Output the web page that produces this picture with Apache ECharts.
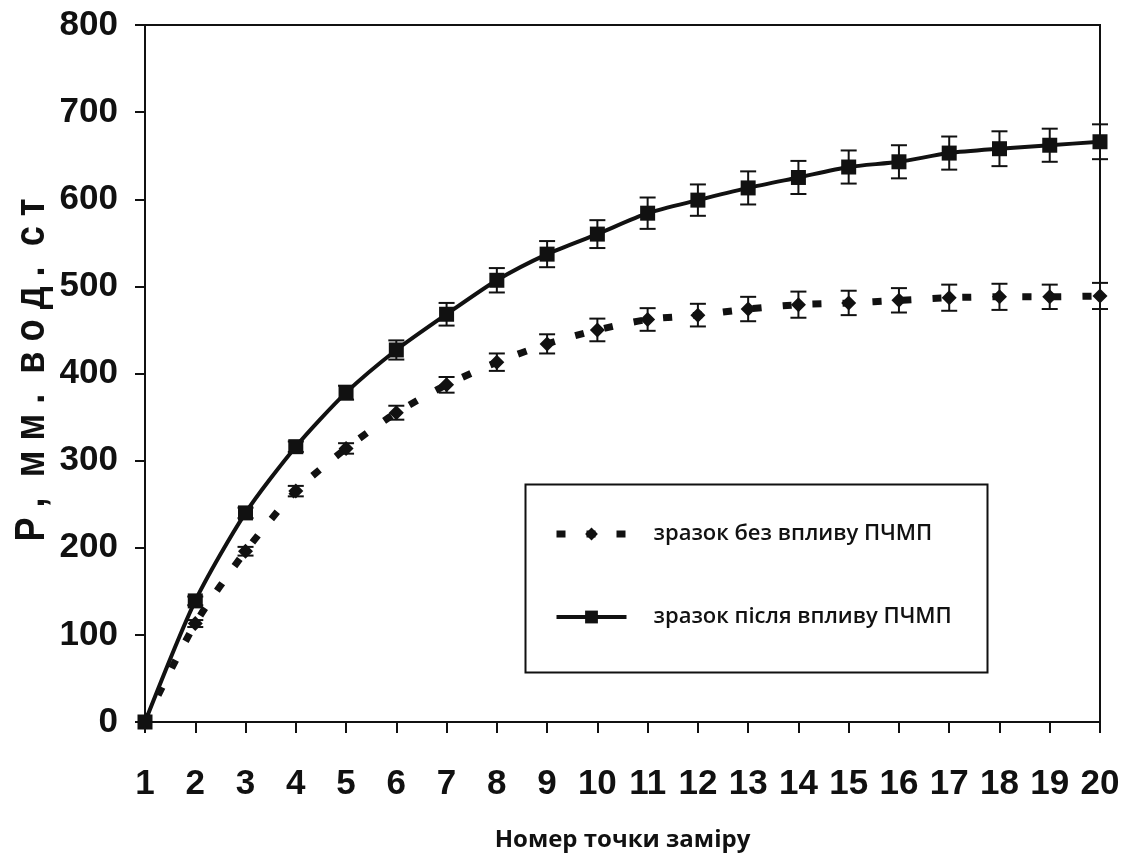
<!DOCTYPE html>
<html>
<head>
<meta charset="utf-8">
<script src="https://cdn.jsdelivr.net/npm/echarts@6/dist/echarts.min.js"></script>
<style>html,body{margin:0;padding:0;background:#fff}#c{width:1130px;height:858px}</style>
</head>
<body>
<div id="c"></div>
<script>
// ---- data ----
const pointNumbers = [1,2,3,4,5,6,7,8,9,10,11,12,13,14,15,16,17,18,19,20];
const seriesNames = ['зразок без впливу ПЧМП', 'зразок після впливу ПЧМП'];
const valuesWithout = [0,113,196,265,314,355,387,413,434,450,462,467,474,479,481,484,487,488,488,489];
const errorsWithout = [0,4,5,6,6,8,9,10,11,13,13,13,14,15,14,14,15,15,14,15];
const valuesAfter = [0,139,240,316,378,427,468,507,537,560,584,599,613,625,637,643,653,658,662,666];
const errorsAfter = [0,5,6,6,8,11,13,14,15,16,18,18,19,19,19,19,19,20,19,20];
const yTicks = {min: 0, max: 800, step: 100};
const xTitle = 'Номер точки заміру';
const yTitle = 'Р ,  м м .  в о д .  с т';

const INK = '#111';
const SANS = '"Liberation Sans", Arial, sans-serif';
const CAL = '"Open Sans", "Noto Sans", sans-serif';

function pairs(vals){ return pointNumbers.map((x,i)=>[x, vals[i]]); }
function errTriples(vals, errs){ return pointNumbers.map((x,i)=>[x, vals[i], errs[i]]); }

function errorBar(params, api){
  const x = api.value(0), y = api.value(1), e = api.value(2);
  if (!e) return null;
  const top = api.coord([x, y + e]);
  const bot = api.coord([x, y - e]);
  const hw = 8;
  const st = {stroke: INK, lineWidth: 2};
  return {type: 'group', children: [
    {type: 'line', shape: {x1: top[0], y1: top[1], x2: bot[0], y2: bot[1]}, style: st},
    {type: 'line', shape: {x1: top[0]-hw, y1: top[1], x2: top[0]+hw, y2: top[1]}, style: st},
    {type: 'line', shape: {x1: bot[0]-hw, y1: bot[1], x2: bot[0]+hw, y2: bot[1]}, style: st}
  ]};
}

const chart = echarts.init(document.getElementById('c'), null, {renderer: 'canvas'});
chart.setOption({
  backgroundColor: '#fff',
  animation: false,
  grid: {left: 145, right: 30, top: 25, bottom: 136, show: true, borderColor: INK, borderWidth: 2, backgroundColor: 'transparent'},
  xAxis: {
    type: 'value', min: 1, max: 20, interval: 1,
    axisLine: {show: true, onZero: false, lineStyle: {color: INK, width: 2}},
    axisTick: {show: true, inside: false, length: 11, lineStyle: {color: INK, width: 2}},
    splitLine: {show: false},
    axisLabel: {margin: 45, color: INK, fontFamily: SANS, fontWeight: 'bold', fontSize: 35},
    name: xTitle, nameLocation: 'middle', nameGap: 106,
    nameTextStyle: {fontFamily: CAL, fontWeight: 'bold', fontSize: 24, color: INK}
  },
  yAxis: {
    type: 'value', min: yTicks.min, max: yTicks.max, interval: yTicks.step,
    axisLine: {show: true, onZero: false, lineStyle: {color: INK, width: 2}},
    axisTick: {show: true, inside: false, length: 10, lineStyle: {color: INK, width: 2}},
    splitLine: {show: false},
    axisLabel: {margin: 27, color: INK, fontFamily: SANS, fontWeight: 'bold', fontSize: 35}
  },
  legend: {
    orient: 'vertical', left: 548, top: 517, itemGap: 59,
    itemWidth: 70, itemHeight: 16,
    textStyle: {fontFamily: CAL, fontWeight: 600, fontSize: 22, color: INK, padding: [0,0,0,22], lineHeight: 24},
    data: [
      {name: seriesNames[0], lineStyle: {width: 7, type: [9, 21], color: INK}},
      {name: seriesNames[1], lineStyle: {width: 4, color: INK}}
    ]
  },
  graphic: [
    {type: 'rect', left: 523, top: 482, shape: {width: 462, height: 188}, style: {fill: 'none', stroke: INK, lineWidth: 2}, z: 5},
    {type: 'text', x: 32, y: 370, rotation: Math.PI/2, scaleX: 0.86,
     style: {text: yTitle, font: 'bold 42px ' + SANS, fill: INK, align: 'center', verticalAlign: 'middle'}}
  ],
  series: [
    {
      name: seriesNames[0], type: 'line', data: pairs(valuesWithout), smooth: 0.25,
      symbol: 'diamond', symbolSize: 15,
      lineStyle: {color: INK, width: 7, type: [9, 21]},
      itemStyle: {color: INK}, z: 3
    },
    {
      name: seriesNames[1], type: 'line', data: pairs(valuesAfter), smooth: 0.25,
      symbol: 'rect', symbolSize: 15,
      lineStyle: {color: INK, width: 4},
      itemStyle: {color: INK}, z: 3
    },
    {type: 'custom', renderItem: errorBar, data: errTriples(valuesWithout, errorsWithout), z: 2, silent: true},
    {type: 'custom', renderItem: errorBar, data: errTriples(valuesAfter, errorsAfter), z: 2, silent: true}
  ]
});
</script>
</body>
</html>
